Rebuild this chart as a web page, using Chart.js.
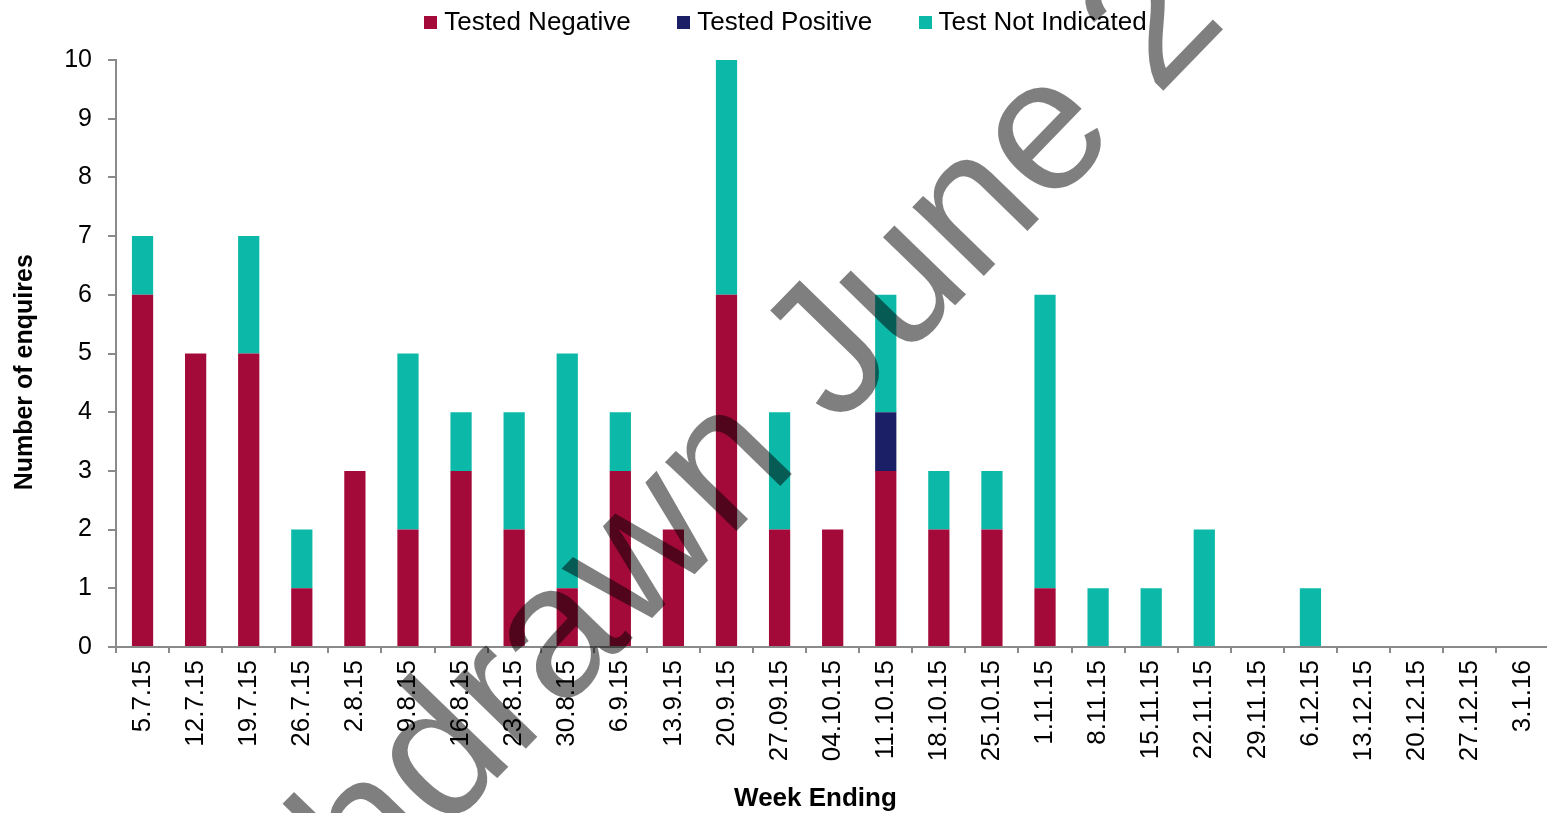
<!DOCTYPE html>
<html>
<head>
<meta charset="utf-8">
<script src="https://cdn.jsdelivr.net/npm/chart.js@4.4.1/dist/chart.umd.min.js"></script>
<style>
html,body{margin:0;padding:0;background:#fff;overflow:hidden;width:1547px;height:813px}
#wrap{position:absolute;left:0;top:0;width:1561px;height:813px}
</style>
</head>
<body>
<div id="wrap"><canvas id="c" width="1561" height="813"></canvas></div>
<script>
// ---- data ----
const weeks = ['5.7.15','12.7.15','19.7.15','26.7.15','2.8.15','9.8.15','16.8.15','23.8.15','30.8.15','6.9.15','13.9.15','20.9.15','27.09.15','04.10.15','11.10.15','18.10.15','25.10.15','1.11.15','8.11.15','15.11.15','22.11.15','29.11.15','6.12.15','13.12.15','20.12.15','27.12.15','3.1.16'];
const testedNegative   = [6,5,5,1,3,2,3,2,1,3,2,6,2,2,3,2,2,1,0,0,0,0,0,0,0,0,0];
const testedPositive   = [0,0,0,0,0,0,0,0,0,0,0,0,0,0,1,0,0,0,0,0,0,0,0,0,0,0,0];
const testNotIndicated = [1,0,2,1,0,3,1,2,4,1,0,4,2,0,2,1,1,5,1,1,2,0,1,0,0,0,0];
const seriesNames = ['Tested Negative','Tested Positive','Test Not Indicated'];
const yMin = 0, yMax = 10, yStep = 1;
const xTitle = 'Week Ending';
const yTitle = 'Number of enquires';
const watermarkText = 'Withdrawn June 2016';

// ---- styles ----
const FONT = '"Liberation Sans", Arial, Helvetica, sans-serif';
const COLORS = ['#A30A3A', '#1B1F66', '#0CB9A8'];
const AXIS = '#8a8a8a';
Chart.defaults.font.family = FONT;
Chart.defaults.color = '#000';

function swatch(color) {
  const cv = document.createElement('canvas');
  cv.width = 13; cv.height = 13;
  const g = cv.getContext('2d');
  g.fillStyle = color; g.fillRect(0, 0, 13, 13);
  return cv;
}

const legendFit = {
  id: 'legendFit',
  beforeInit(chart) {
    const orig = chart.legend.fit;
    chart.legend.fit = function () {
      orig.call(this);
      this.height = 102.7;
    };
  }
};

const axisTitles = {
  id: 'axisTitles',
  afterDraw(chart) {
    const c = chart.ctx;
    const xs = chart.scales.x, ys = chart.scales.y;
    c.save();
    c.fillStyle = '#000';
    c.textAlign = 'center';
    c.textBaseline = 'middle';
    c.font = 'bold 26px ' + FONT;
    c.fillText(xTitle, xs.left + (xs.right - xs.left) * 0.488, xs.bottom - 14);
    c.translate(25.5, ys.top + (ys.bottom - ys.top) * 0.532);
    c.rotate(-Math.PI / 2);
    c.font = 'bold 25px ' + FONT;
    c.fillText(yTitle, 0, 0);
    c.restore();
  }
};

const watermark = {
  id: 'watermark',
  afterDraw(chart) {
    const c = chart.ctx;
    c.save();
    c.font = '188px ' + FONT;
    c.fillStyle = 'rgba(0,0,0,0.5)';
    c.textAlign = 'left';
    c.textBaseline = 'alphabetic';
    c.translate(444, 833);
    c.rotate(-45.9 * Math.PI / 180);
    const pre = c.measureText('With').width;
    c.fillText(watermarkText, -pre, 0);
    c.restore();
  }
};

new Chart(document.getElementById('c'), {
  type: 'bar',
  data: {
    labels: weeks,
    datasets: [
      { label: seriesNames[0], data: testedNegative, backgroundColor: COLORS[0], pointStyle: swatch(COLORS[0]) },
      { label: seriesNames[1], data: testedPositive, backgroundColor: COLORS[1], pointStyle: swatch(COLORS[1]) },
      { label: seriesNames[2], data: testNotIndicated, backgroundColor: COLORS[2], pointStyle: swatch(COLORS[2]) }
    ]
  },
  options: {
    responsive: false,
    animation: false,
    devicePixelRatio: 1,
    layout: { padding: { left: 16, right: 0, top: -42.7, bottom: 0 } },
    datasets: { bar: { barPercentage: 0.4, categoryPercentage: 1 } },
    plugins: {
      legend: {
        position: 'top',
        labels: { usePointStyle: true, boxWidth: 1, boxHeight: 13, padding: 52.5, color: '#000', font: { family: FONT, size: 26 } }
      },
      tooltip: { enabled: false }
    },
    scales: {
      x: {
        stacked: true,
        grid: { display: true, drawOnChartArea: false, drawTicks: true, tickLength: 6, color: AXIS, lineWidth: 2, offset: true },
        border: { display: true, color: AXIS, width: 2 },
        ticks: { color: '#000', font: { family: FONT, size: 26 }, maxRotation: 90, minRotation: 90, padding: 7, autoSkip: false },
        title: { display: false, text: xTitle },
        afterFit(s) { s.height = 166; }
      },
      y: {
        stacked: true,
        min: yMin, max: yMax,
        ticks: { stepSize: yStep, color: '#000', font: { family: FONT, size: 25 }, padding: 16 },
        grid: { display: true, drawOnChartArea: false, drawTicks: true, tickLength: 8, color: AXIS, lineWidth: 2 },
        border: { display: true, color: AXIS, width: 2 },
        title: { display: false, text: yTitle },
        afterFit(s) { s.width = 100; }
      }
    }
  },
  plugins: [legendFit, axisTitles, watermark]
});
</script>
</body>
</html>
